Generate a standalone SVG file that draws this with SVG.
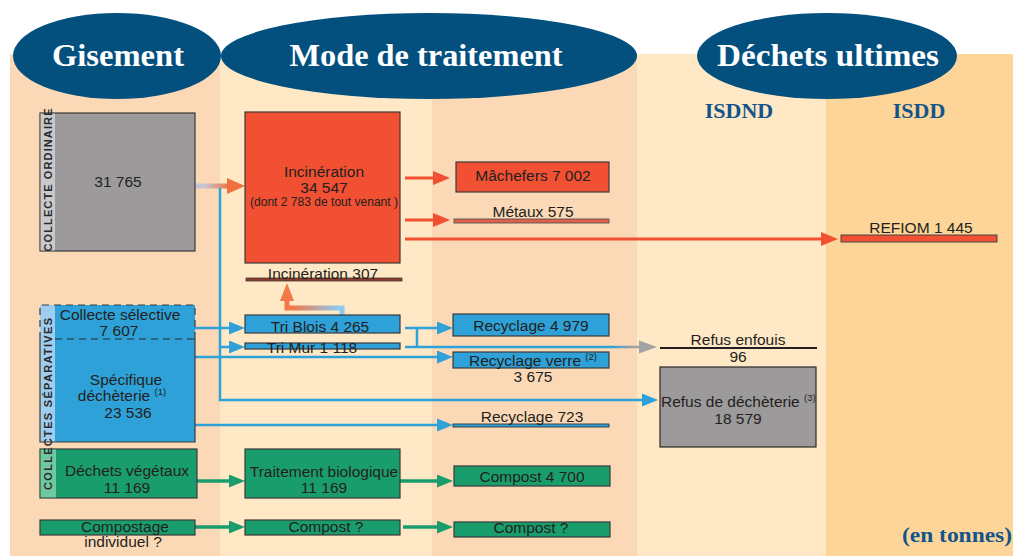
<svg xmlns="http://www.w3.org/2000/svg" width="1020" height="556" viewBox="0 0 1020 556">
<defs>
<style>
.t{font-family:"Liberation Sans",Arial,sans-serif;font-size:15.5px;fill:#231f20;text-anchor:middle}
.sup{font-size:9.5px}
.h{font-family:"Liberation Serif","Times New Roman",serif;font-weight:bold;font-size:32px;fill:#ffffff;text-anchor:middle}
.s{font-family:"Liberation Serif","Times New Roman",serif;font-weight:bold;font-size:22px;fill:#13558a;text-anchor:middle}
.v{font-family:"Liberation Sans",Arial,sans-serif;font-weight:bold;font-size:11px;fill:#2a2a2a;text-anchor:middle}
.ell{fill:#03507f}
.bx{stroke:#3a3a3a;stroke-width:1.2}
.or{fill:#f15032}.bl{fill:#2ea1d9}.gr{fill:#199d6d}.gy{fill:#9c9a9b}
.ao{stroke:#f15032;stroke-width:3;fill:none}
.ab{stroke:#2ea1d9;stroke-width:2.5;fill:none}
.ag{stroke:#199d6d;stroke-width:3.5;fill:none}
</style>
<marker id="mo" markerUnits="userSpaceOnUse" viewBox="0 0 17 14" markerWidth="17" markerHeight="14" refX="9" refY="7" orient="auto"><path d="M0,0 L17,7 L0,14 z" fill="#f15032"/></marker>
<marker id="mb" markerUnits="userSpaceOnUse" viewBox="0 0 16 13" markerWidth="16" markerHeight="13" refX="8" refY="6.5" orient="auto"><path d="M0,0 L16,6.5 L0,13 z" fill="#2ea1d9"/></marker>
<marker id="mg" markerUnits="userSpaceOnUse" viewBox="0 0 16 13" markerWidth="16" markerHeight="13" refX="8" refY="6.5" orient="auto"><path d="M0,0 L16,6.5 L0,13 z" fill="#199d6d"/></marker>
<linearGradient id="g1" gradientUnits="userSpaceOnUse" x1="205" y1="0" x2="230" y2="0"><stop offset="0" stop-color="#c6c4d2"/><stop offset="1" stop-color="#f07040"/></linearGradient>
<linearGradient id="g2" gradientUnits="userSpaceOnUse" x1="612" y1="0" x2="634" y2="0"><stop offset="0" stop-color="#2ea1d9"/><stop offset="1" stop-color="#a3a3a3"/></linearGradient>
<linearGradient id="g3" gradientUnits="userSpaceOnUse" x1="292" y1="0" x2="338" y2="0"><stop offset="0" stop-color="#f47848"/><stop offset="1" stop-color="#8ec9ef"/></linearGradient>
</defs>

<rect x="0" y="0" width="1020" height="556" fill="#ffffff"/>
<g id="bands">
<rect x="10" y="54" width="210" height="502" fill="#fcd9b6"/>
<rect x="220" y="54" width="212" height="502" fill="#fee8c6"/>
<rect x="432" y="54" width="205" height="502" fill="#fcd9b6"/>
<rect x="637" y="54" width="189" height="502" fill="#fee8c6"/>
<rect x="826" y="54" width="187" height="502" fill="#fdd599"/>
</g>

<g id="headers">
<ellipse class="ell" cx="117" cy="56" rx="104" ry="43"/>
<ellipse class="ell" cx="429" cy="56" rx="208" ry="43"/>
<ellipse class="ell" cx="827" cy="56" rx="130" ry="43"/>
<text class="h" x="118" y="66" textLength="132" lengthAdjust="spacingAndGlyphs">Gisement</text>
<text class="h" x="426" y="66" textLength="273" lengthAdjust="spacingAndGlyphs">Mode de traitement</text>
<text class="h" x="828" y="66" textLength="222" lengthAdjust="spacingAndGlyphs">Déchets ultimes</text>
<text class="s" x="739" y="118">ISDND</text>
<text class="s" x="919" y="118">ISDD</text>
<text class="s" x="957" y="542" textLength="110" lengthAdjust="spacingAndGlyphs">(en tonnes)</text>
</g>

<g id="connectors">
<line x1="195" y1="186" x2="229" y2="186" stroke="url(#g1)" stroke-width="5"/>
<polygon points="227,178 245,186 227,194" fill="#f07040"/>
<line class="ao" x1="405" y1="178" x2="442" y2="178" marker-end="url(#mo)"/>
<line class="ao" x1="405" y1="220" x2="442" y2="220" marker-end="url(#mo)"/>
<line class="ao" x1="405" y1="239" x2="830" y2="239" marker-end="url(#mo)"/>
<path class="ab" d="M220,188 V400 H650" marker-end="url(#mb)"/>
<line class="ab" x1="195" y1="328" x2="237" y2="328" marker-end="url(#mb)"/>
<line class="ab" x1="220" y1="347" x2="237" y2="347" marker-end="url(#mb)"/>
<line class="ab" x1="195" y1="357" x2="445" y2="357" marker-end="url(#mb)"/>
<line class="ab" x1="195" y1="425" x2="445" y2="425" marker-end="url(#mb)"/>
<line class="ab" x1="405" y1="328" x2="445" y2="328" marker-end="url(#mb)"/>
<line class="ab" x1="417" y1="328" x2="417" y2="347"/>
<line x1="405" y1="347" x2="641" y2="347" stroke="url(#g2)" stroke-width="2.5"/>
<polygon points="639,340.5 657,347 639,353.5" fill="#a3a3a3"/>
<path d="M342,315 V308 H287 V299" fill="none" stroke="url(#g3)" stroke-width="5"/>
<polygon points="280,301 287,283 294,301" fill="#f47848"/>
<line class="ag" x1="197" y1="481" x2="237" y2="481" marker-end="url(#mg)"/>
<line class="ag" x1="400" y1="481" x2="445" y2="481" marker-end="url(#mg)"/>
<line class="ag" x1="195" y1="527" x2="237" y2="527" marker-end="url(#mg)"/>
<line class="ag" x1="403" y1="527" x2="445" y2="527" marker-end="url(#mg)"/>
</g>

<g id="n-collecte-ordinaire">
<rect class="gy bx" x="40" y="113" width="155" height="138"/>
<rect x="40.6" y="113.6" width="14.4" height="136.8" fill="#c9c8ca"/>
<text class="v" transform="translate(51.8,180) rotate(-90)" textLength="143" lengthAdjust="spacing">COLLECTE ORDINAIRE</text>
<text class="t" x="118" y="187">31 765</text>
</g>

<g id="n-incineration">
<rect class="or bx" x="245" y="112" width="155" height="151"/>
<text class="t" x="324" y="177">Incinération</text>
<text class="t" x="324" y="193">34 547</text>
<text class="t" x="324" y="206" style="font-size:12px" textLength="148" lengthAdjust="spacingAndGlyphs">(dont 2 783 de tout venant )</text>
</g>

<g id="n-incineration-307">
<rect x="246" y="278" width="156" height="3" fill="#8a3a2a" stroke="#4a3a35" stroke-width="0.8"/>
<text class="t" x="323" y="279">Incinération 307</text>
</g>

<g id="n-machefers">
<rect class="or bx" x="456" y="162" width="153" height="30"/>
<text class="t" x="533" y="181">Mâchefers 7 002</text>
</g>

<g id="n-metaux">
<rect x="454" y="219" width="155" height="4" fill="#e0604a" stroke="#555" stroke-width="0.9"/>
<text class="t" x="533" y="217">Métaux 575</text>
</g>

<g id="n-refiom">
<rect class="or" x="841" y="235" width="156" height="7" stroke="#444" stroke-width="1"/>
<text class="t" x="921" y="233">REFIOM 1 445</text>
</g>

<g id="n-collectes-separatives">
<rect class="bl" x="40" y="305" width="155" height="137"/>
<rect x="40" y="305" width="15" height="137" fill="#9fcdef"/>
<path d="M40,339 V442 H195 V339" fill="none" stroke="#3a3a3a" stroke-width="1.2"/>
<path d="M40,339 V305 H195 V339" fill="none" stroke="#3a3a3a" stroke-width="1.2" stroke-dasharray="7,5"/>
<path d="M55,339 H195" fill="none" stroke="#2a2a2a" stroke-width="1.2" stroke-dasharray="7,5"/>
<text class="t" x="120" y="320">Collecte sélective</text>
<text class="t" x="119" y="336">7 607</text>
<text class="t" x="126" y="385">Spécifique</text>
<text class="t" x="122" y="401">déchèterie <tspan class="sup" dy="-6">(1)</tspan></text>
<text class="t" x="128" y="418">23 536</text>
</g>

<g id="n-tri-blois">
<rect class="bl bx" x="245" y="315" width="155" height="18"/>
<text class="t" x="320" y="332">Tri Blois 4 265</text>
</g>

<g id="n-tri-mur">
<rect class="bl bx" x="245" y="343" width="155" height="6"/>
<text class="t" x="312" y="353">Tri Mur 1 118</text>
</g>

<g id="n-recyclage-4979">
<rect class="bl bx" x="453" y="314" width="156" height="22"/>
<text class="t" x="531" y="331">Recyclage 4 979</text>
</g>

<g id="n-recyclage-verre">
<rect class="bl bx" x="453" y="352" width="156" height="16"/>
<text class="t" x="533" y="366">Recyclage verre <tspan class="sup" dy="-6">(2)</tspan></text>
<text class="t" x="533" y="382">3 675</text>
</g>

<g id="n-recyclage-723">
<rect class="bl" x="453" y="424" width="156" height="3" stroke="#333" stroke-width="0.9"/>
<text class="t" x="532" y="422">Recyclage 723</text>
</g>

<g id="n-refus-enfouis">
<line x1="660" y1="348" x2="817" y2="348" stroke="#231f20" stroke-width="2"/>
<text class="t" x="738" y="345">Refus enfouis</text>
<text class="t" x="738" y="362">96</text>
</g>

<g id="n-refus-decheterie">
<rect class="gy" x="660" y="367" width="156" height="80" stroke="#2a2a2a" stroke-width="1.2"/>
<text class="t" x="661" y="407" style="text-anchor:start">Refus de déchèterie <tspan class="sup" dy="-6">(3)</tspan></text>
<text class="t" x="738" y="424">18 579</text>
</g>

<g id="n-dechets-vegetaux">
<rect class="gr bx" x="40" y="449" width="157" height="49"/>
<rect x="40.6" y="449.6" width="15.4" height="47.8" fill="#70c8a0"/>
<text class="t" x="127" y="476">Déchets végétaux</text>
<text class="t" x="127" y="493">11 169</text>
</g>

<text class="v" transform="translate(52,404) rotate(-90)" textLength="172" lengthAdjust="spacing">COLLECTES SÉPARATIVES</text>

<g id="n-traitement-biologique">
<rect class="gr bx" x="245" y="449" width="155" height="49"/>
<text class="t" x="324" y="477">Traitement biologique</text>
<text class="t" x="324" y="493">11 169</text>
</g>

<g id="n-compost-4700">
<rect class="gr bx" x="454" y="466" width="156" height="20"/>
<text class="t" x="532" y="482">Compost 4 700</text>
</g>

<g id="n-compostage-individuel">
<rect class="gr bx" x="40" y="520" width="155" height="15"/>
<text class="t" x="125" y="532">Compostage</text>
<text class="t" x="123" y="547">individuel ?</text>
</g>

<g id="n-compost-q1">
<rect class="gr bx" x="245" y="520" width="155" height="15"/>
<text class="t" x="326" y="532">Compost ?</text>
</g>

<g id="n-compost-q2">
<rect class="gr bx" x="454" y="522" width="156" height="15"/>
<text class="t" x="531" y="533">Compost ?</text>
</g>
</svg>
